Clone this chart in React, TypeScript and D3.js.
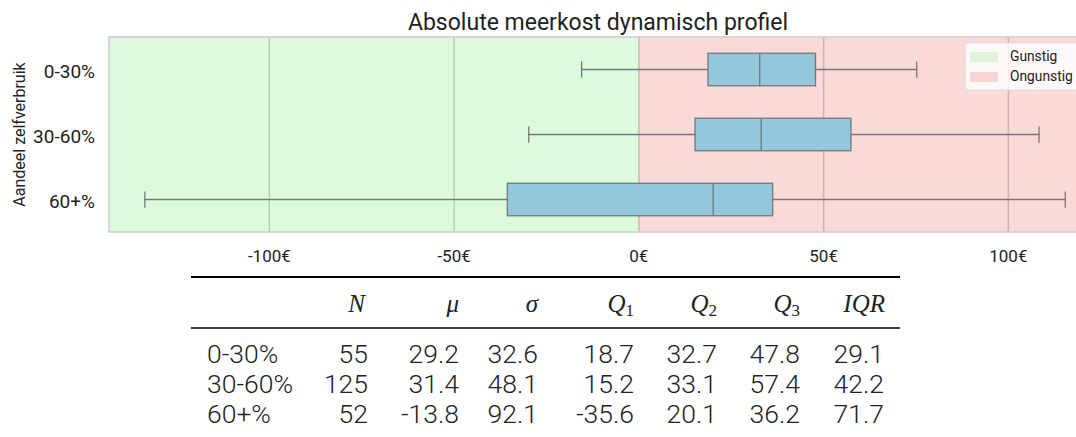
import React from "react";
import * as d3 from "d3";

const categories = ["0-30%", "30-60%", "60+%"];
const whiskerLow = [-15.5, -29.8, -133.7];
const q1 = [18.7, 15.2, -35.6];
const median = [32.7, 33.1, 20.1];
const q3 = [47.8, 57.4, 36.2];
const whiskerHigh = [75.2, 108.3, 115.4];

const xTicks = [-100, -50, 0, 50, 100];

const tableHeader = ["N", "μ", "σ", "Q1", "Q2", "Q3", "IQR"];
const tableN = ["55", "125", "52"];
const tableMu = ["29.2", "31.4", "-13.8"];
const tableSigma = ["32.6", "48.1", "92.1"];
const tableQ1 = ["18.7", "15.2", "-35.6"];
const tableQ2 = ["32.7", "33.1", "20.1"];
const tableQ3 = ["47.8", "57.4", "36.2"];
const tableIQR = ["29.1", "42.2", "71.7"];

const legendLabels = ["Gunstig", "Ongunstig"];

const W = 1076;
const H = 437;
const plotLeft = 109;
const plotRight = 1076;
const plotTop = 37;
const plotBottom = 232;
const xDomain: [number, number] = [-143.4, 118.3];

const green = "rgba(144,238,144,0.3)";
const red = "rgba(240,128,128,0.3)";
const boxFill = "#93c7de";
const edge = "#777777";
const font = "Roboto, 'Noto Sans', sans-serif";
const mathFont = "'Liberation Serif', 'DejaVu Serif', serif";

export default function App() {
  const x = d3.scaleLinear().domain(xDomain).range([plotLeft, plotRight]);
  const y = d3
    .scaleBand<string>()
    .domain(categories)
    .range([plotTop, plotBottom])
    .paddingInner(0)
    .paddingOuter(0);
  const boxH = y.bandwidth() * 0.5;
  const capH = boxH / 2;

  const colRight = [368, 459, 538, 634, 717, 800, 884];
  const headRight = [365, 459, 538, 634, 717, 800, 885];
  const cols = [tableN, tableMu, tableSigma, tableQ1, tableQ2, tableQ3, tableIQR];
  const rowY = [363, 393, 423];

  const renderHeader = (h: string, i: number) => {
    const m = h.match(/^Q(\d)$/);
    if (m) {
      return (
        <text key={i} x={headRight[i]} y={312} textAnchor="end" fontFamily={mathFont} fontSize={25} fill="#222">
          <tspan fontStyle="italic">Q</tspan>
          <tspan fontSize={17} dy={4}>{m[1]}</tspan>
        </text>
      );
    }
    return (
      <text key={i} x={headRight[i]} y={312} textAnchor="end" fontFamily={mathFont} fontStyle="italic" fontSize={25} fill="#222">
        {h}
      </text>
    );
  };

  return (
    <svg width={W} height={H} style={{ position: "absolute", left: 0, top: 0, background: "#fff" }}>
      <defs>
        <clipPath id="plotclip">
          <rect x={plotLeft} y={plotTop} width={plotRight - plotLeft} height={plotBottom - plotTop} />
        </clipPath>
      </defs>
      {xTicks.map((t) => (
        <line key={t} x1={x(t)} x2={x(t)} y1={plotTop} y2={plotBottom} stroke="#c4c4c4" strokeWidth={1.5} />
      ))}
      <rect x={x(xDomain[0])} y={plotTop} width={x(0) - x(xDomain[0])} height={plotBottom - plotTop} fill={green} />
      <rect x={x(0)} y={plotTop} width={x(xDomain[1]) - x(0)} height={plotBottom - plotTop} fill={red} />
      <rect x={plotLeft} y={plotTop} width={plotRight - plotLeft + 2} height={plotBottom - plotTop} fill="none" stroke="#cccccc" strokeWidth={1.5} />
      <g clipPath="url(#plotclip)">
        {categories.map((c, i) => {
          const cy = (y(c) as number) + y.bandwidth() / 2;
          return (
            <g key={c}>
              <line x1={x(whiskerLow[i])} x2={x(q1[i])} y1={cy} y2={cy} stroke={edge} strokeWidth={1.3} />
              <line x1={x(q3[i])} x2={x(whiskerHigh[i])} y1={cy} y2={cy} stroke={edge} strokeWidth={1.3} />
              <line x1={x(whiskerLow[i])} x2={x(whiskerLow[i])} y1={cy - capH / 2} y2={cy + capH / 2} stroke={edge} strokeWidth={1.3} />
              <line x1={x(whiskerHigh[i])} x2={x(whiskerHigh[i])} y1={cy - capH / 2} y2={cy + capH / 2} stroke={edge} strokeWidth={1.3} />
              <rect x={x(q1[i])} y={cy - boxH / 2} width={x(q3[i]) - x(q1[i])} height={boxH} fill={boxFill} stroke={edge} strokeWidth={1.3} />
              <line x1={x(median[i])} x2={x(median[i])} y1={cy - boxH / 2} y2={cy + boxH / 2} stroke={edge} strokeWidth={1.3} />
            </g>
          );
        })}
      </g>
      {xTicks.map((t) => (
        <text key={t} x={x(t)} y={262} textAnchor="middle" fontFamily={font} fontSize={17} fill="#222">
          {`${t}€`}
        </text>
      ))}
      {categories.map((c) => (
        <text key={c} x={95} y={(y(c) as number) + y.bandwidth() / 2 + 8.5} textAnchor="end" fontFamily={font} fontSize={19} fill="#222">
          {c}
        </text>
      ))}
      <text transform={`translate(25,${(plotTop + plotBottom) / 2}) rotate(-90)`} textAnchor="middle" fontFamily={font} fontSize={16} fill="#222">
        Aandeel zelfverbruik
      </text>
      <text x={598} y={30} textAnchor="middle" fontFamily={font} fontSize={23} fill="#222">
        Absolute meerkost dynamisch profiel
      </text>
      <g>
        <rect x={965} y={43} width={120} height={47} rx={3} fill="rgba(255,255,255,0.8)" stroke="#dddddd" strokeWidth={1} />
        {legendLabels.map((l, i) => (
          <g key={l}>
            <rect x={970} y={52 + i * 20} width={28} height={10} fill={i === 0 ? green : red} />
            <text x={1010} y={61 + i * 20} fontFamily={font} fontSize={13.8} fill="#222">
              {l}
            </text>
          </g>
        ))}
      </g>
      <line x1={191} x2={900} y1={277} y2={277} stroke="#000" strokeWidth={2.2} />
      <line x1={191} x2={900} y1={328} y2={328} stroke="#000" strokeWidth={1.5} />
      {tableHeader.map(renderHeader)}
      {categories.map((c, r) => (
        <g key={c}>
          <text x={207} y={rowY[r]} fontFamily={font} fontWeight={300} fontSize={26.5} fill="#222">
            {c}
          </text>
          {cols.map((col, j) => (
            <text key={j} x={colRight[j]} y={rowY[r]} textAnchor="end" fontFamily={font} fontWeight={300} fontSize={26.5} fill="#222">
              {col[r]}
            </text>
          ))}
        </g>
      ))}
    </svg>
  );
}
